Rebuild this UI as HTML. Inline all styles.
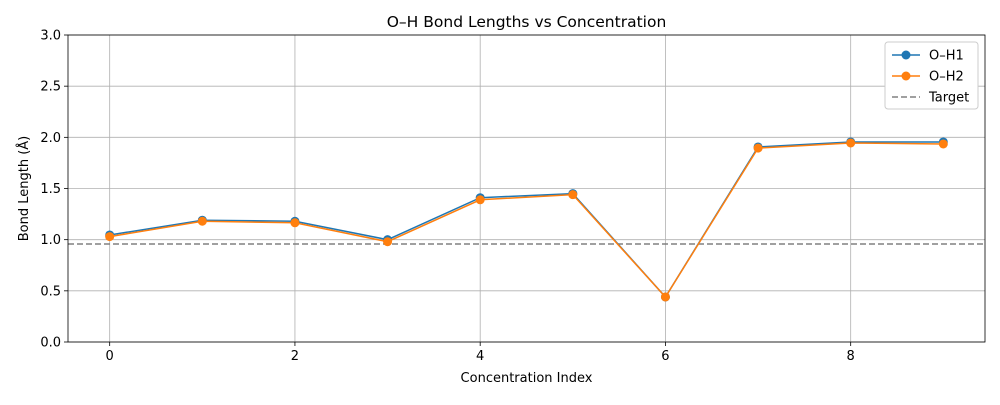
<!DOCTYPE html>
<html><head><meta charset="utf-8"><style>
body{margin:0;background:#fff;font-family:"Liberation Sans","DejaVu Sans",sans-serif;}
svg text{font-family:"DejaVu Sans","Liberation Sans",sans-serif;}
</style></head><body>
<svg id="chart" width="1000" height="400"></svg>
<script>
const categories=[0,1,2,3,4,5,6,7,8,9];
const oh1=[1.046,1.19,1.18,1.0,1.41,1.45,0.44,1.906,1.955,1.955];
const oh2=[1.03,1.18,1.165,0.98,1.39,1.44,0.44,1.895,1.945,1.935];
const target=0.9572;
const xTicks=[0,2,4,6,8];
const yTicks=[0.0,0.5,1.0,1.5,2.0,2.5,3.0];
const L=68,R=985,T=35,B=342;
const xMin=-0.45,xMax=9.45,yMin=0,yMax=3;
const sx=v=>L+(v-xMin)/(xMax-xMin)*(R-L);
const sy=v=>B-(v-yMin)/(yMax-yMin)*(B-T);
const svg=document.getElementById('chart');
const NS='http://www.w3.org/2000/svg';
function mk(tag,attrs,parent){const e=document.createElementNS(NS,tag);for(const k in attrs)e.setAttribute(k,attrs[k]);(parent||svg).appendChild(e);return e;}
const grid=mk('g',{});


xTicks.forEach(t=>{
  const l=mk('line',{x1:sx(t),x2:sx(t),y1:T,y2:B,stroke:'#b0b0b0','stroke-width':0.8},grid);
  
  
  mk('line',{x1:sx(t),x2:sx(t),y1:B,y2:B+4,stroke:'#000','stroke-width':0.8});
  const tx=mk('text',{x:sx(t),y:B+18,'font-size':13,'text-anchor':'middle'});
  tx.textContent=t;
  
  
});
yTicks.forEach(t=>{
  const l=mk('line',{x1:L,x2:R,y1:sy(t),y2:sy(t),stroke:'#b0b0b0','stroke-width':0.8},grid);
  
  
  mk('line',{x1:L-4,x2:L,y1:sy(t),y2:sy(t),stroke:'#000','stroke-width':0.8});
  const tx=mk('text',{x:L-7,y:sy(t)+4.5,'font-size':13,'text-anchor':'end'});
  tx.textContent=t.toFixed(1);
  
  
});
const tl=mk('line',{x1:L,x2:R,y1:sy(target),y2:sy(target),stroke:'#808080','stroke-width':1.5,'stroke-dasharray':'6,3'});


function series(vals,color,name){
  const g=mk('g',{});
  
  
  mk('polyline',{points:vals.map((v,i)=>sx(categories[i])+','+sy(v)).join(' '),fill:'none',stroke:color,'stroke-width':1.5},g);
  vals.forEach((v,i)=>{
    const c=mk('circle',{cx:sx(categories[i]),cy:sy(v),r:4.5,fill:color},g);
    
    
  });
}
series(oh1,'#1f77b4','oh1-series');
series(oh2,'#ff7f0e','oh2-series');
const frame=mk('rect',{x:L,y:T,width:R-L,height:B-T,fill:'none',stroke:'#000','stroke-width':0.8});


const title=mk('text',{x:(L+R)/2,y:27,'font-size':15.5,'text-anchor':'middle'});
title.textContent='O–H Bond Lengths vs Concentration';


const xl=mk('text',{x:(L+R)/2,y:382,'font-size':13,'text-anchor':'middle'});
xl.textContent='Concentration Index';


const yl=mk('text',{x:28,y:(T+B)/2,'font-size':13,'text-anchor':'middle',transform:'rotate(-90 28 '+((T+B)/2)+')'});
yl.textContent='Bond Length (Å)';


const lg=mk('g',{});


mk('rect',{x:885,y:42,width:93,height:67,rx:3,fill:'#fff',stroke:'#ccc'},lg);
[['O–H1','#1f77b4',false],['O–H2','#ff7f0e',false],['Target','#808080',true]].forEach((e,i)=>{
  const y=55+i*21;
  const item=mk('g',{},lg);
  
  
  mk('line',{x1:892,x2:920,y1:y,y2:y,stroke:e[1],'stroke-width':1.5,'stroke-dasharray':e[2]?'6,3':'none'},item);
  if(!e[2])mk('circle',{cx:906,cy:y,r:4.5,fill:e[1]},item);
  const t=mk('text',{x:929,y:y+4.5,'font-size':13},item);
  t.textContent=e[0];
});
</script>
</body></html>
